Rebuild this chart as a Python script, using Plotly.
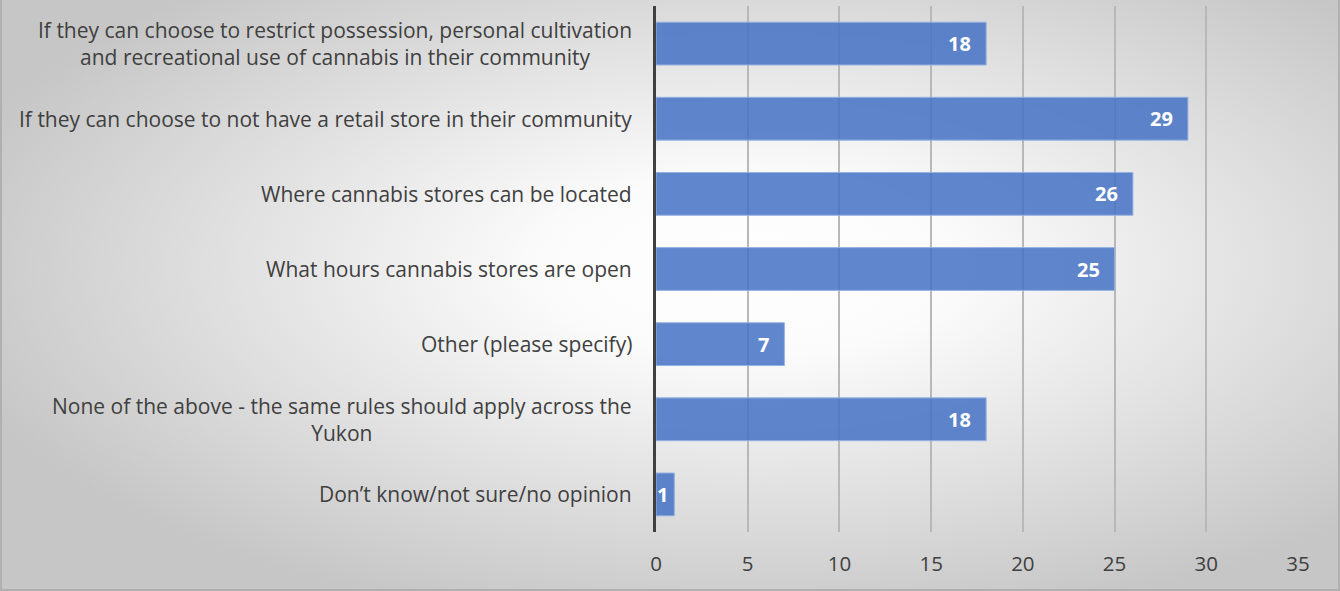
import base64
import plotly.graph_objects as go

categories = [
    "If they can choose to restrict possession, personal cultivation<br>and recreational use of cannabis in their community",
    "If they can choose to not have a retail store in their community",
    "Where cannabis stores can be located",
    "What hours cannabis stores are open",
    "Other (please specify)",
    "None of the above - the same rules should apply across the<br>Yukon",
    "Don’t know/not sure/no opinion",
]
values = [18, 29, 26, 25, 7, 18, 1]
x_ticks = [0, 5, 10, 15, 20, 25, 30, 35]

W, H = 1340, 591
ML, MR, MT, MB = 656, 42, 6, 59
PW, PH = W - ML - MR, H - MT - MB

svg = f'''<svg xmlns="http://www.w3.org/2000/svg" width="{W}" height="{H}" viewBox="0 0 {W} {H}">
<defs><radialGradient id="g" cx="0.56" cy="0.45" r="0.62" fx="0.56" fy="0.45">
<stop offset="0" stop-color="#ffffff"/><stop offset="0.25" stop-color="#fbfbfb"/><stop offset="1" stop-color="#c6c6c6"/></radialGradient></defs>
<rect x="0" y="0" width="{W}" height="{H}" fill="url(#g)"/>
<rect x="1" y="-2" width="{W-2}" height="{H+1}" fill="none" stroke="#b0b0b0" stroke-width="2"/>
</svg>'''
src = "data:image/svg+xml;base64," + base64.b64encode(svg.encode()).decode()

fig = go.Figure()
fig.add_trace(go.Bar(
    x=values, y=categories, orientation="h",
    marker=dict(color="rgba(68,114,196,0.85)", line=dict(color="rgba(150,178,226,1)", width=1)),
    width=0.57, hoverinfo="skip",
))

font_family = "'Open Sans', sans-serif"

annotations = []
for c in categories:
    annotations.append(dict(
        x=0, xref="paper", y=c, yref="y", text=c, showarrow=False,
        xanchor="right", yanchor="middle", align="center", xshift=-22,
        font=dict(family=font_family, size=21, color="#404040"),
    ))
for c, v in zip(categories, values):
    annotations.append(dict(
        x=v, xref="x", y=c, yref="y", text=f"<b>{v}</b>", showarrow=False,
        xanchor="right", yanchor="middle", xshift=-13 if v > 1 else -4,
        font=dict(family=font_family, size=20, color="white"),
    ))

fig.update_layout(
    width=W, height=H,
    margin=dict(l=ML, r=MR, t=MT, b=MB, pad=0),
    paper_bgcolor="rgba(0,0,0,0)", plot_bgcolor="rgba(0,0,0,0)",
    showlegend=False,
    images=[dict(source=src, xref="paper", yref="paper",
                 x=-ML / PW, y=1 + MT / PH, sizex=W / PW, sizey=H / PH,
                 xanchor="left", yanchor="top", sizing="stretch", layer="below")],
    xaxis=dict(range=[0, 35], tickvals=x_ticks, showgrid=True,
               gridcolor="#b8b8b8", gridwidth=1.5, zeroline=False,
               tickfont=dict(family=font_family, size=20.5, color="#404040"),
               ticks="", ticklabelstandoff=17, fixedrange=True),
    yaxis=dict(autorange="reversed", showticklabels=False, showgrid=False,
               showline=True, linecolor="#404040", linewidth=3, zeroline=False,
               fixedrange=True),
    annotations=annotations,
)

fig.write_html("out.html")
